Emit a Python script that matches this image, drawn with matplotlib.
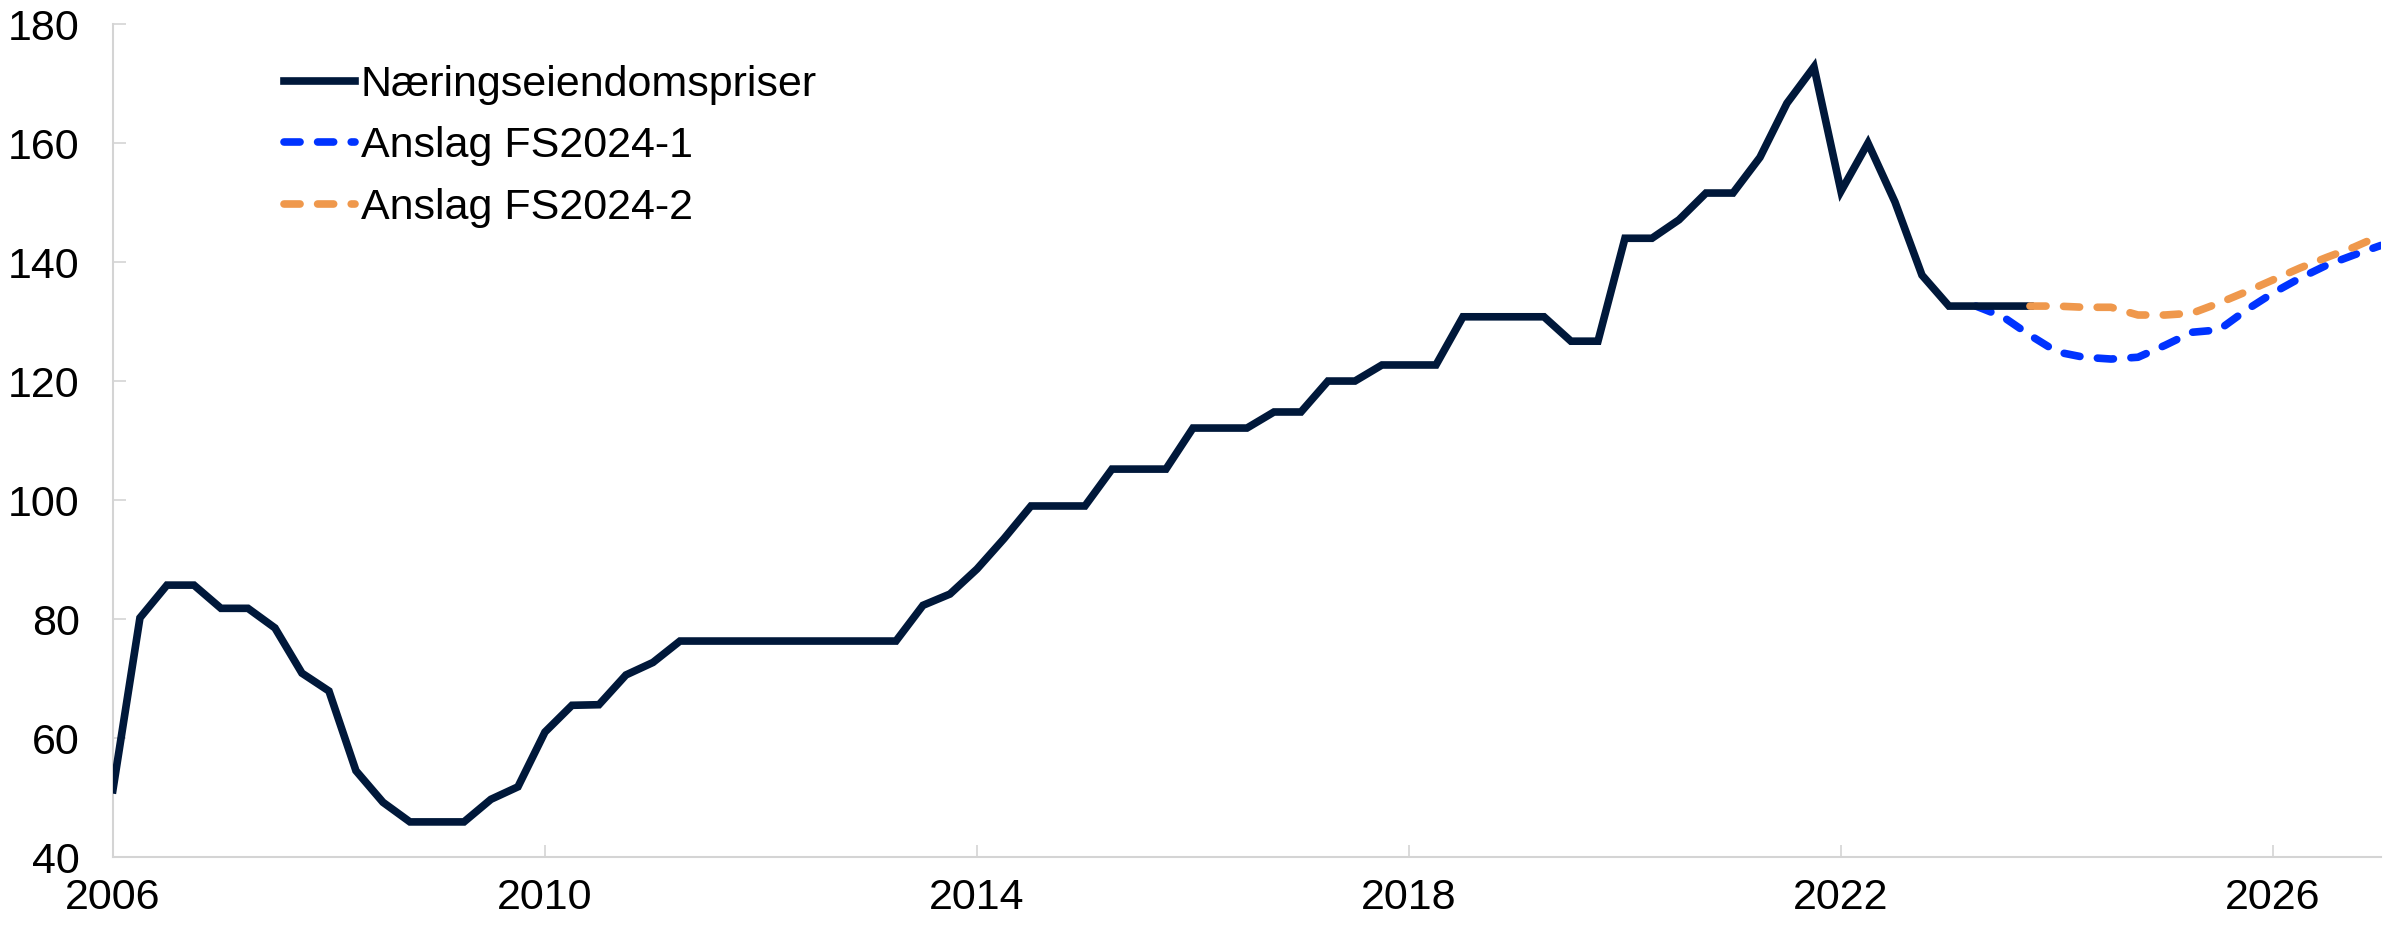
import numpy as np
import matplotlib
matplotlib.use("Agg")
import matplotlib.pyplot as plt

# quarterly series, first point 2006 Q1
start_year = 2006
prices = [51.3, 80.2, 85.7, 85.7, 81.8, 81.8, 78.5, 70.9,
          67.9, 54.5, 49.2, 45.9, 45.9, 45.9, 49.7, 51.8,
          61.0, 65.5, 65.6, 70.6, 72.7, 76.3, 76.3, 76.3,
          76.3, 76.3, 76.3, 76.3, 76.3, 76.3, 82.3, 84.2,
          88.4, 93.5, 99.0, 99.0, 99.0, 105.2, 105.2, 105.2,
          112.1, 112.1, 112.1, 114.8, 114.8, 120.0, 120.0, 122.7,
          122.7, 122.7, 130.8, 130.8, 130.8, 130.8, 126.7, 126.7,
          144.0, 144.0, 147.1, 151.6, 151.6, 157.6, 166.7, 172.8,
          151.9, 160.0, 150.1, 137.8, 132.6, 132.6, 132.6, 132.6]

# FS2024-1 starts 2023 Q2, FS2024-2 starts 2023 Q4
fs1_start = 69
fs1 = [132.6, 130.8, 127.7, 124.9, 124.0, 123.7, 124.0, 126.0,
       128.2, 128.6, 131.9, 134.8, 137.3, 139.5, 141.2, 142.8]
fs2_start = 71
fs2 = [132.6, 132.6, 132.4, 132.4, 131.1, 131.1, 131.4, 133.1,
       135.0, 137.0, 139.0, 140.8, 142.5, 144.5]

labels = ["Næringseiendomspriser", "Anslag FS2024-1", "Anslag FS2024-2"]
colors = ["#00183A", "#0033FF", "#EF984C"]
yticks = [40, 60, 80, 100, 120, 140, 160, 180]
xticks = [2006, 2010, 2014, 2018, 2022, 2026]

plt.rcParams["font.family"] = ["Liberation Sans", "DejaVu Sans"]

fig = plt.figure(figsize=(23.98, 9.26), dpi=100)
ax = fig.add_axes([0.0471, 0.0745, 0.9458, 0.8995])

def qx(first, n):
    return start_year + (first + np.arange(n)) / 4

ax.plot(qx(0, len(prices)), prices, color=colors[0], lw=5.5,
        solid_joinstyle="miter", label=labels[0], zorder=3)
ax.plot(qx(fs1_start, len(fs1)), fs1, color=colors[1], lw=5.5,
        dashes=(2.1, 2.3), dash_capstyle="round", label=labels[1], zorder=2)
ax.plot(qx(fs2_start, len(fs2)), fs2, color=colors[2], lw=5.5,
        dashes=(2.1, 2.3), dash_capstyle="round", label=labels[2], zorder=4)

ax.set_xlim(2006, 2027)
ax.set_ylim(40, 180)
ax.set_xticks(xticks)
ax.set_yticks(yticks)

for s in ["top", "right"]:
    ax.spines[s].set_visible(False)
for s in ["left", "bottom"]:
    ax.spines[s].set_color("#d4d4d4")
    ax.spines[s].set_linewidth(1.5)

ax.tick_params(axis="both", direction="in", length=9, width=1.2,
               color="#d4d4d4", labelsize=31, labelcolor="black")
ax.tick_params(axis="y", pad=24)
ax.tick_params(axis="x", pad=15)

ax.legend(loc="upper left", bbox_to_anchor=(0.068, 0.972), frameon=False,
          fontsize=31, handlelength=1.65, handletextpad=0.12,
          labelspacing=0.5, borderaxespad=0)

fig.savefig("out.png", dpi=100)
